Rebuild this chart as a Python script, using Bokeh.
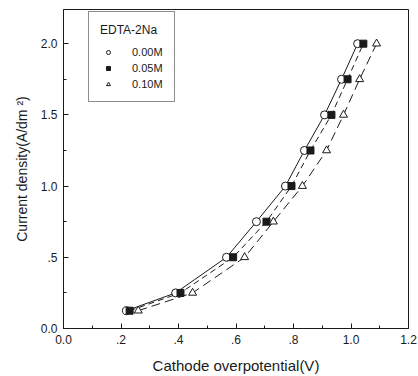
from bokeh.plotting import figure
from bokeh.models import Range1d, FixedTicker, Legend, LegendItem
from bokeh.embed import file_html
from bokeh.resources import INLINE

# Current density levels (A/dm^2)
current = [0.125, 0.25, 0.5, 0.75, 1.0, 1.25, 1.5, 1.75, 2.0]
# Cathode overpotential (V) for each EDTA-2Na concentration
eta_000 = [0.219, 0.390, 0.567, 0.671, 0.772, 0.838, 0.908, 0.967, 1.023]
eta_005 = [0.230, 0.407, 0.590, 0.706, 0.793, 0.859, 0.932, 0.988, 1.043]
eta_010 = [0.260, 0.449, 0.630, 0.730, 0.831, 0.915, 0.974, 1.030, 1.089]

x_ticks = [0.0, 0.2, 0.4, 0.6, 0.8, 1.0, 1.2]
x_tick_labels = ["0.0", ".2", ".4", ".6", ".8", "1.0", "1.2"]
y_ticks = [0.0, 0.5, 1.0, 1.5, 2.0]
y_tick_labels = ["0.0", ".5", "1.0", "1.5", "2.0"]

FONT = "Liberation Sans"
INK = "#1a1a1a"

p = figure(width=418, height=376, output_backend="svg", toolbar_location=None,
           x_range=Range1d(0, 1.2), y_range=Range1d(0, 2.24),
           min_border_left=63, min_border_right=10, min_border_top=9,
           min_border_bottom=48)
p.grid.visible = False
p.outline_line_color = INK
p.outline_line_width = 1
p.background_fill_color = "white"
p.border_fill_color = "white"

for ax, ticks, labels in ((p.xaxis[0], x_ticks, x_tick_labels),
                          (p.yaxis[0], y_ticks, y_tick_labels)):
    ax.ticker = FixedTicker(ticks=ticks,
                            minor_ticks=[t + (ticks[1] - ticks[0]) / 2 for t in ticks[:-1]])
    ax.major_label_overrides = {t: l for t, l in zip(ticks, labels)}
    ax.major_tick_in = 5
    ax.major_tick_out = 0
    ax.minor_tick_in = 3
    ax.minor_tick_out = 0
    ax.axis_line_color = INK
    ax.major_tick_line_color = INK
    ax.minor_tick_line_color = INK
    ax.major_label_text_font = FONT
    ax.major_label_text_font_size = "12px"
    ax.major_label_text_color = INK
    ax.axis_label_text_font = FONT
    ax.axis_label_text_font_style = "normal"
    ax.axis_label_text_color = INK

p.xaxis.major_label_standoff = 6
p.xaxis.axis_label = "Cathode overpotential(V)"
p.xaxis.axis_label_text_font_size = "15px"
p.xaxis.axis_label_standoff = 10
p.yaxis.major_label_standoff = 6
p.yaxis.axis_label = "Current density(A/dm \u00b2)"
p.yaxis.axis_label_text_font_size = "14px"
p.yaxis.axis_label_standoff = 8

# Trend curves through each series
p.line(eta_000, current, line_color=INK, line_width=1)
p.line(eta_005, current, line_color=INK, line_width=1, line_dash="6 4")
p.line(eta_010, current, line_color=INK, line_width=1, line_dash="9 5")

r0 = p.scatter(eta_000, current, marker="circle", size=8,
               fill_color="white", line_color=INK, line_width=1)
r1 = p.scatter(eta_005, current, marker="square", size=7,
               fill_color=INK, line_color=INK, line_width=1)
r2 = p.scatter(eta_010, current, marker="triangle", size=8,
               fill_color="white", line_color=INK, line_width=1)

legend = Legend(items=[LegendItem(label="0.00M", renderers=[r0]),
                       LegendItem(label="0.05M", renderers=[r1]),
                       LegendItem(label="0.10M", renderers=[r2])],
                location=(25, 226), title="EDTA-2Na",
                title_text_font=FONT, title_text_font_size="12px",
                title_text_font_style="normal", title_text_color=INK,
                title_standoff=9,
                label_text_font=FONT, label_text_font_size="11px",
                label_text_color=INK, label_standoff=16,
                glyph_width=16, glyph_height=10, label_height=10,
                spacing=4, padding=11, margin=0,
                border_line_color=INK, border_line_width=1,
                background_fill_alpha=1.0)
p.add_layout(legend)

open("out.html", "w").write(file_html(p, INLINE))
